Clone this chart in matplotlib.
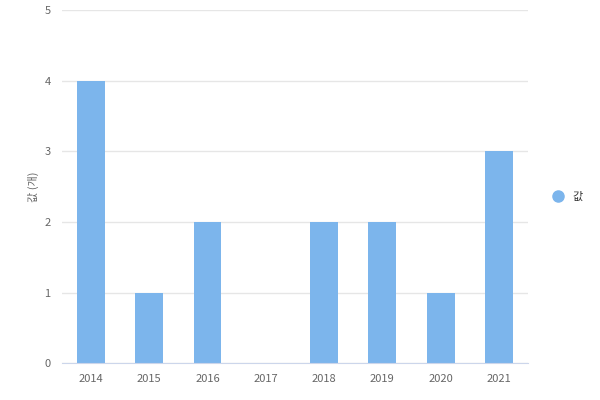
import matplotlib.pyplot as plt

plt.rcParams['font.family'] = ['Noto Sans CJK KR', 'DejaVu Sans']

years = ['2014', '2015', '2016', '2017', '2018', '2019', '2020', '2021']
values = [4, 1, 2, 0, 2, 2, 1, 3]

fig = plt.figure(figsize=(6, 4), dpi=100)
ax = fig.add_axes([0.103, 0.092, 0.777, 0.883])
x = range(len(years))
ax.bar(x, values, width=0.48, color='#7cb5ec', label='값', zorder=2)
ax.set_xlim(-0.5, len(years) - 0.5)
ax.set_ylim(0, 5)
ax.set_xticks(list(x))
ax.set_xticklabels(years)
ax.set_yticks(range(6))
ax.grid(axis='y', color='#e6e6e6', linewidth=1, zorder=0)
for s in ['top', 'right', 'left']:
    ax.spines[s].set_visible(False)
ax.spines['bottom'].set_color('#ccd6eb')
ax.tick_params(axis='both', length=0, labelsize=8, labelcolor='#666666', pad=8)
ax.set_ylabel('값 (개)', fontsize=8, color='#666666')
ax.legend(loc='center left', bbox_to_anchor=(1.02, 0.47), frameon=False,
          handlelength=0.8, handleheight=0.8, fontsize=8)
leg = ax.get_legend()
for h in leg.legend_handles:
    h.set_visible(False)
ax.scatter([], [])
fig.legend_ = None
import matplotlib.lines as mlines
marker = mlines.Line2D([], [], color='#7cb5ec', marker='o', linestyle='None', markersize=8, label='값')
ax.legend(handles=[marker], loc='center left', bbox_to_anchor=(1.02, 0.47), frameon=False,
          fontsize=8, handletextpad=0.3, labelcolor='#333333')
fig.savefig('out.png')
